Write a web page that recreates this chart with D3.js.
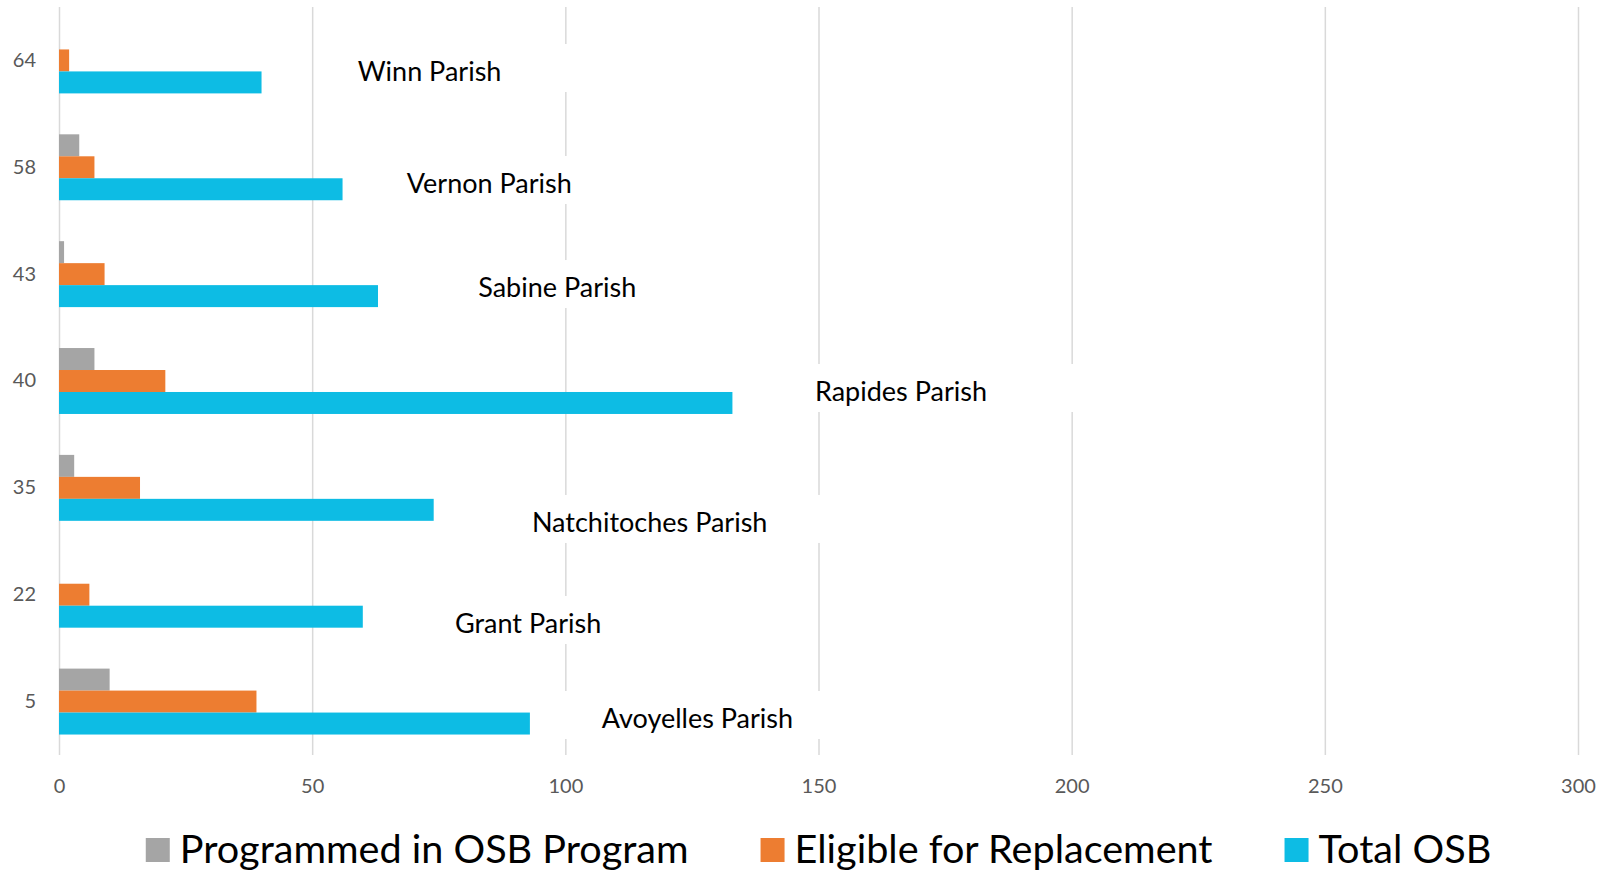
<!DOCTYPE html>
<meta charset="utf-8">
<head>
    <title>OSB by parish</title>
</head>

<style>
  body {
    margin: 0;
    background: #fff;
  }

  .grid line {
    stroke: #d9d9d9;
    stroke-width: 1.5px;
  }

  .grid text,
  .yaxis text {
    font: 20px Lato;
    fill: #595959;
  }

  .labelBox {
    fill: #fff;
  }

  .parishLabel {
    font: 27px Lato;
    fill: #000;
  }

  .legendLabel {
    font: 39.6px Lato;
    fill: #000;
  }
</style>
<body>
<script src="https://d3js.org/d3.v7.min.js"></script>

<script>
// data, top row first
var codes = ["64", "58", "43", "40", "35", "22", "5"];
var parishes = ["Winn Parish", "Vernon Parish", "Sabine Parish", "Rapides Parish",
                "Natchitoches Parish", "Grant Parish", "Avoyelles Parish"];
var programmed = [0, 4, 1, 7, 3, 0, 10];
var eligible = [2, 7, 9, 21, 16, 6, 39];
var totalOSB = [40, 56, 63, 133, 74, 60, 93];
var seriesNames = ["Programmed in OSB Program", "Eligible for Replacement", "Total OSB"];
var xTicks = [0, 50, 100, 150, 200, 250, 300];

var colors = ["#a5a5a5", "#ed7d31", "#0dbce4"];

// where the parish labels were dragged to (value along x, px below row centre)
var labelAt = [59, 68.7, 82.8, 149.3, 93.4, 78.2, 107.2];
var labelDrop = [20.6, 25.7, 22.9, 20, 44.1, 38.3, 26.4];

var margin = {top: 7, right: 35, bottom: 116, left: 59},
    width = 1613 - margin.left - margin.right,
    height = 871 - margin.top - margin.bottom;

var svg = d3.select("body").append("svg")
    .attr("width", 1613)
    .attr("height", 871)
  .append("g")
    .attr("transform", "translate(" + margin.left + "," + margin.top + ")");

var x = d3.scaleLinear().domain([0, 300]).range([0, width]);

var y0 = d3.scaleBand()
    .domain(codes)
    .range([0, height])
    .paddingInner(0.383)
    .paddingOuter(0.1915);

var y1 = d3.scaleBand()
    .domain(seriesNames)
    .range([0, y0.bandwidth()]);

var rows = codes.map(function(c, i) {
  return {
    code: c,
    parish: parishes[i],
    values: [programmed[i], eligible[i], totalOSB[i]],
    labelAt: labelAt[i],
    labelDrop: labelDrop[i]
  };
});

// gridlines + x tick labels
var grid = svg.append("g")
    .attr("class", "grid")
    .attr("transform", "translate(0," + height + ")")
    .call(d3.axisBottom(x).tickValues(xTicks).tickSize(-height).tickFormat(d3.format("d")));
grid.select(".domain").remove();
grid.selectAll("text")
    .attr("y", 38)
    .attr("dy", null);

// y labels
var yAxis = svg.append("g")
    .attr("class", "yaxis")
    .call(d3.axisLeft(y0).tickSize(0));
yAxis.select(".domain").remove();
yAxis.selectAll("text")
    .attr("x", -23);

// parish labels (white boxes cover the gridlines)
var labels = svg.append("g").selectAll(".lbl")
    .data(rows)
    .enter().append("g")
    .attr("class", "lbl")
    .attr("transform", function(d) {
      return "translate(" + x(d.labelAt) + "," + (y0(d.code) + y0.bandwidth() / 2 + d.labelDrop) + ")";
    });

var boxes = labels.append("rect").attr("class", "labelBox");

labels.append("text")
    .attr("class", "parishLabel")
    .text(function(d) { return d.parish; });

boxes
    .attr("x", -42)
    .attr("y", -37)
    .attr("height", 48)
    .attr("width", function(d) {
      return this.parentNode.querySelector("text").getComputedTextLength() + 42 + 120;
    });

// bars
var groups = svg.append("g").selectAll(".row")
    .data(rows)
    .enter().append("g")
    .attr("class", "row")
    .attr("transform", function(d) { return "translate(0," + y0(d.code) + ")"; });

groups.selectAll("rect")
    .data(function(d) {
      return d.values.map(function(v, k) { return {key: seriesNames[k], value: v, k: k}; });
    })
    .enter().append("rect")
    .attr("x", x(0))
    .attr("y", function(d) { return y1(d.key); })
    .attr("height", y1.bandwidth())
    .attr("width", function(d) { return x(d.value) - x(0); })
    .attr("fill", function(d) { return colors[d.k]; });

// legend, centred under the plot
var legend = svg.append("g")
    .attr("class", "legend")
    .attr("transform", "translate(0," + (height + 83) + ")");

var items = legend.selectAll(".item")
    .data(seriesNames)
    .enter().append("g")
    .attr("class", "item");

items.append("rect")
    .attr("width", 24)
    .attr("height", 24)
    .attr("fill", function(d, i) { return colors[i]; });

items.append("text")
    .attr("class", "legendLabel")
    .attr("x", 34)
    .attr("y", 25)
    .text(function(d) { return d; });

var gap = 72, offsets = [], pos = 0;
items.each(function() {
  offsets.push(pos);
  pos += 34 + this.querySelector("text").getComputedTextLength() + gap;
});
var total = pos - gap;
var start = width / 2 - total / 2;
items.attr("transform", function(d, i) { return "translate(" + (start + offsets[i]) + ",0)"; });
</script>
</body>
